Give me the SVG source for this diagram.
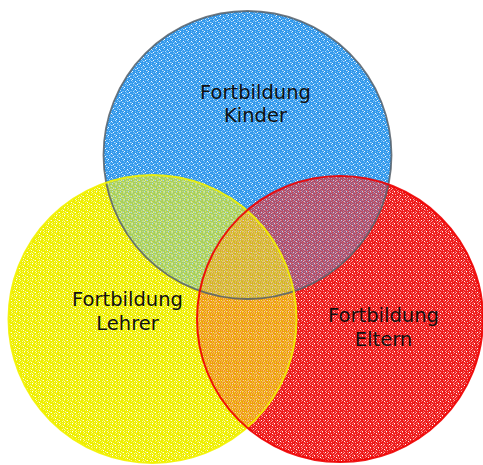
<svg xmlns="http://www.w3.org/2000/svg" xmlns:xlink="http://www.w3.org/1999/xlink" width="483" height="465" viewBox="0 0 483 465">
  <style>
    .lbl { font-family: "DejaVu Sans", Verdana, sans-serif; font-size: 19.5px; fill: #111; text-anchor: middle; }
    .ring { fill: none; }
  </style>
  <defs>
    <pattern id="pb" patternUnits="userSpaceOnUse" width="8" height="8">
      <rect width="8" height="8" fill="#3399ec"/>
      <g fill="#74bdf4"><rect x="1" y="0" width="1" height="1"/><rect x="4" y="1" width="1" height="1"/><rect x="6" y="2" width="1" height="1"/><rect x="2" y="3" width="1" height="1"/><rect x="0" y="5" width="1" height="1"/><rect x="5" y="5" width="1" height="1"/><rect x="3" y="6" width="1" height="1"/><rect x="7" y="7" width="1" height="1"/><rect x="6" y="4" width="1" height="1"/><rect x="3" y="3" width="1" height="1"/></g>
      <g fill="#b8ddfa"><rect x="3" y="0" width="1" height="1"/><rect x="0" y="2" width="1" height="1"/><rect x="5" y="3" width="1" height="1"/><rect x="2" y="6" width="1" height="1"/><rect x="7" y="5" width="1" height="1"/></g>
      <g fill="#ffffff"><rect x="7" y="1" width="1" height="1"/><rect x="1" y="4" width="1" height="1"/><rect x="4" y="7" width="1" height="1"/></g>
    </pattern>
    <pattern id="pr" patternUnits="userSpaceOnUse" width="8" height="8">
      <rect width="8" height="8" fill="#ee1b1b"/>
      <g fill="#f46a6a"><rect x="2" y="0" width="1" height="1"/><rect x="5" y="1" width="1" height="1"/><rect x="7" y="3" width="1" height="1"/><rect x="1" y="2" width="1" height="1"/><rect x="3" y="4" width="1" height="1"/><rect x="6" y="6" width="1" height="1"/><rect x="0" y="7" width="1" height="1"/><rect x="4" y="5" width="1" height="1"/><rect x="1" y="6" width="1" height="1"/></g>
      <g fill="#f9aaaa"><rect x="6" y="0" width="1" height="1"/><rect x="3" y="2" width="1" height="1"/><rect x="0" y="4" width="1" height="1"/><rect x="5" y="7" width="1" height="1"/><rect x="7" y="5" width="1" height="1"/></g>
      <g fill="#ffffff"><rect x="0" y="1" width="1" height="1"/><rect x="5" y="4" width="1" height="1"/><rect x="2" y="7" width="1" height="1"/></g>
    </pattern>
    <pattern id="py" patternUnits="userSpaceOnUse" width="8" height="8">
      <rect width="8" height="8" fill="#eeee00"/>
      <g fill="#f7f76c"><rect x="0" y="0" width="1" height="1"/><rect x="3" y="1" width="1" height="1"/><rect x="6" y="1" width="1" height="1"/><rect x="2" y="4" width="1" height="1"/><rect x="5" y="2" width="1" height="1"/><rect x="7" y="4" width="1" height="1"/><rect x="1" y="6" width="1" height="1"/><rect x="4" y="6" width="1" height="1"/><rect x="6" y="7" width="1" height="1"/></g>
      <g fill="#fbfbb0"><rect x="4" y="0" width="1" height="1"/><rect x="1" y="3" width="1" height="1"/><rect x="6" y="5" width="1" height="1"/><rect x="3" y="7" width="1" height="1"/><rect x="0" y="5" width="1" height="1"/></g>
      <g fill="#ffffff"><rect x="7" y="2" width="1" height="1"/><rect x="3" y="4" width="1" height="1"/><rect x="0" y="7" width="1" height="1"/></g>
    </pattern>
    <circle id="cb" cx="247.5" cy="155" r="144"/>
    <circle id="cy" cx="152.5" cy="319" r="144"/>
    <circle id="cr" cx="340" cy="319" r="143"/>
  </defs>

  <g id="fills">
    <use xlink:href="#cy" href="#cy" fill="url(#py)"/>
    <use xlink:href="#cr" href="#cr" fill="url(#pr)"/>
    <use xlink:href="#cb" href="#cb" fill="url(#pb)"/>
    <use xlink:href="#cr" href="#cr" fill="url(#pr)" fill-opacity="0.62"/>
    <use xlink:href="#cy" href="#cy" fill="url(#py)" fill-opacity="0.62"/>
  </g>

  <g id="node-kinder">
    <use xlink:href="#cb" href="#cb" class="ring" stroke="#56606a" stroke-width="1.8" stroke-opacity="0.85"/>
    <text class="lbl" x="255.5" y="98.5">Fortbildung</text>
    <text class="lbl" x="255.5" y="122.3">Kinder</text>
  </g>
  <g id="node-lehrer">
    <use xlink:href="#cy" href="#cy" class="ring" stroke="#f2f200" stroke-width="2" stroke-opacity="0.9"/>
    <text class="lbl" x="127.5" y="306">Fortbildung</text>
    <text class="lbl" x="127.5" y="330">Lehrer</text>
  </g>
  <g id="node-eltern">
    <use xlink:href="#cr" href="#cr" class="ring" stroke="#ee0000" stroke-width="2" stroke-opacity="0.9"/>
    <text class="lbl" x="383.5" y="322">Fortbildung</text>
    <text class="lbl" x="383.5" y="345.7">Eltern</text>
  </g>
</svg>
